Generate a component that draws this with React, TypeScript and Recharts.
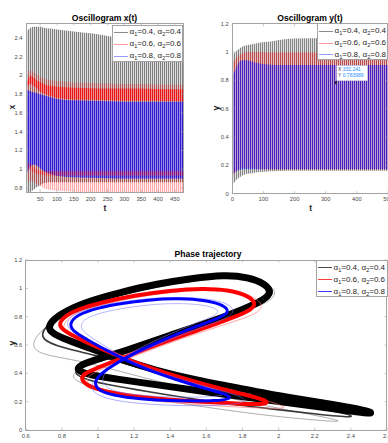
import React from "react";
import {
  Area,
  ComposedChart,
  Line,
  LineChart,
  ReferenceDot,
  XAxis,
  YAxis,
} from "recharts";

const FONT = "'Liberation Sans', Arial, Helvetica, sans-serif";
const INK = "#262626";
const TICK_INK = "#4a4a4a";
const FRAME = "#a3a3a3";

const alpha1 = ["0.4", "0.6", "0.8"];
const alpha2 = ["0.4", "0.6", "0.8"];

// x(t): envelopes of the oscillations
const tX = [8, 15, 22, 30, 40, 50, 60, 80, 100, 150, 200, 250, 300, 350, 400, 474];
const blackXHigh = [2.46, 2.49, 2.51, 2.52, 2.52, 2.52, 2.51, 2.5, 2.49, 2.47, 2.45, 2.42, 2.39, 2.36, 2.33, 2.28];
const blackXLow = [0.75, 0.75, 0.76, 0.78, 0.81, 0.83, 0.85, 0.86, 0.86, 0.86, 0.86, 0.86, 0.86, 0.86, 0.86, 0.86];
const redXHigh = [1.92, 2.03, 2.055, 2.04, 2.01, 1.99, 1.97, 1.95, 1.94, 1.925, 1.92, 1.915, 1.91, 1.91, 1.905, 1.9];
const redXLow = [0.84, 0.87, 0.88, 0.86, 0.84, 0.82, 0.8, 0.78, 0.77, 0.76, 0.755, 0.755, 0.755, 0.755, 0.755, 0.755];
const redXTopHigh = [1.89, 1.97, 2.0, 1.98, 1.95, 1.93, 1.91, 1.89, 1.88, 1.87, 1.865, 1.86, 1.86, 1.86, 1.855, 1.85];
const redXTopLow = [1.84, 1.9, 1.91, 1.89, 1.86, 1.83, 1.81, 1.78, 1.76, 1.745, 1.74, 1.735, 1.73, 1.73, 1.73, 1.725];
const blueXHigh = [1.85, 1.84, 1.83, 1.82, 1.81, 1.8, 1.79, 1.77, 1.75, 1.735, 1.73, 1.725, 1.72, 1.72, 1.72, 1.72];
const blueXLow = [0.95, 0.99, 1.03, 1.05, 1.04, 1.01, 0.98, 0.95, 0.93, 0.915, 0.91, 0.905, 0.9, 0.9, 0.9, 0.9];
const redXBandHigh = [1.04, 1.06, 1.05, 1.02, 1.0, 0.99, 0.985, 0.98, 0.98, 0.98, 0.98, 0.98, 0.98, 0.98, 0.98, 0.98];
const redXBandLow = [0.99, 1.0, 0.99, 0.97, 0.95, 0.94, 0.935, 0.93, 0.93, 0.93, 0.93, 0.93, 0.93, 0.93, 0.93, 0.93];

// y(t)
const tY = [0, 10, 20, 30, 40, 50, 75, 100, 125, 150, 200, 300, 400, 500];
const blackYHigh = [0.98, 1.0, 1.02, 1.035, 1.045, 1.05, 1.06, 1.07, 1.075, 1.085, 1.095, 1.097, 1.097, 1.097];
const blackYLow = [0.06, 0.09, 0.11, 0.125, 0.135, 0.14, 0.15, 0.155, 0.158, 0.16, 0.162, 0.162, 0.162, 0.162];
const redYHigh = [0.92, 0.95, 0.975, 0.99, 0.998, 1.0, 1.0, 0.998, 0.997, 0.997, 0.996, 0.995, 0.995, 0.995];
const redYLow = [0.12, 0.15, 0.17, 0.18, 0.184, 0.183, 0.176, 0.172, 0.17, 0.17, 0.17, 0.17, 0.17, 0.17];
const blueYHigh = [0.826, 0.88, 0.925, 0.94, 0.944, 0.94, 0.925, 0.915, 0.91, 0.908, 0.908, 0.908, 0.908, 0.908];
const blueYLow = [0.14, 0.155, 0.165, 0.17, 0.172, 0.172, 0.172, 0.172, 0.172, 0.172, 0.172, 0.172, 0.172, 0.172];

const tipX = 332.241;
const tipY = 0.783989;

// phase trajectory loops (x, y)
const blackOuter = [
  { x: 0.63, y: 0.58 }, { x: 0.66, y: 0.67 }, { x: 0.74, y: 0.76 }, { x: 0.88, y: 0.85 },
  { x: 1.06, y: 0.93 }, { x: 1.28, y: 1.0 }, { x: 1.5, y: 1.05 }, { x: 1.7, y: 1.08 },
  { x: 1.86, y: 1.07 }, { x: 1.96, y: 1.02 }, { x: 1.99, y: 0.96 }, { x: 1.94, y: 0.9 },
  { x: 1.82, y: 0.84 }, { x: 1.6, y: 0.74 }, { x: 1.38, y: 0.65 }, { x: 1.16, y: 0.55 },
  { x: 0.98, y: 0.47 }, { x: 0.88, y: 0.42 }, { x: 0.85, y: 0.37 }, { x: 0.92, y: 0.32 },
  { x: 1.08, y: 0.27 }, { x: 1.35, y: 0.21 }, { x: 1.65, y: 0.15 }, { x: 1.95, y: 0.1 },
  { x: 2.2, y: 0.07 }, { x: 2.36, y: 0.055 }, { x: 2.3, y: 0.08 }, { x: 2.05, y: 0.14 },
  { x: 1.78, y: 0.21 }, { x: 1.5, y: 0.29 }, { x: 1.25, y: 0.37 }, { x: 1.02, y: 0.45 },
  { x: 0.85, y: 0.5 }, { x: 0.7, y: 0.53 },
];
const blackMid = [
  { x: 0.68, y: 0.64 }, { x: 0.7, y: 0.72 }, { x: 0.78, y: 0.8 }, { x: 0.92, y: 0.88 },
  { x: 1.1, y: 0.95 }, { x: 1.3, y: 1.015 }, { x: 1.51, y: 1.06 }, { x: 1.7, y: 1.09 },
  { x: 1.85, y: 1.075 }, { x: 1.95, y: 1.025 }, { x: 1.975, y: 0.965 }, { x: 1.93, y: 0.91 },
  { x: 1.82, y: 0.85 }, { x: 1.61, y: 0.75 }, { x: 1.39, y: 0.66 }, { x: 1.17, y: 0.56 },
  { x: 0.99, y: 0.485 }, { x: 0.89, y: 0.44 }, { x: 0.865, y: 0.4 }, { x: 0.93, y: 0.355 },
  { x: 1.09, y: 0.31 }, { x: 1.35, y: 0.255 }, { x: 1.65, y: 0.195 }, { x: 1.95, y: 0.15 },
  { x: 2.22, y: 0.11 }, { x: 2.42, y: 0.085 }, { x: 2.4, y: 0.11 }, { x: 2.18, y: 0.16 },
  { x: 1.92, y: 0.23 }, { x: 1.65, y: 0.3 }, { x: 1.4, y: 0.375 }, { x: 1.18, y: 0.46 },
  { x: 0.98, y: 0.53 }, { x: 0.8, y: 0.58 },
];
const blackCycle = [
  { x: 0.72, y: 0.7 }, { x: 0.74, y: 0.77 }, { x: 0.82, y: 0.84 }, { x: 0.95, y: 0.91 },
  { x: 1.12, y: 0.97 }, { x: 1.32, y: 1.03 }, { x: 1.52, y: 1.07 }, { x: 1.7, y: 1.095 },
  { x: 1.83, y: 1.08 }, { x: 1.93, y: 1.03 }, { x: 1.96, y: 0.97 }, { x: 1.92, y: 0.92 },
  { x: 1.82, y: 0.86 }, { x: 1.62, y: 0.76 }, { x: 1.4, y: 0.67 }, { x: 1.18, y: 0.57 },
  { x: 1.0, y: 0.5 }, { x: 0.9, y: 0.46 }, { x: 0.88, y: 0.42 }, { x: 0.95, y: 0.39 },
  { x: 1.1, y: 0.36 }, { x: 1.35, y: 0.315 }, { x: 1.65, y: 0.26 }, { x: 1.95, y: 0.21 },
  { x: 2.25, y: 0.16 }, { x: 2.45, y: 0.125 }, { x: 2.53, y: 0.115 }, { x: 2.48, y: 0.14 },
  { x: 2.3, y: 0.18 }, { x: 2.05, y: 0.23 }, { x: 1.8, y: 0.29 }, { x: 1.55, y: 0.35 },
  { x: 1.32, y: 0.42 }, { x: 1.12, y: 0.5 }, { x: 0.95, y: 0.58 }, { x: 0.8, y: 0.65 },
];
const redOuter = [
  { x: 0.8, y: 0.7 }, { x: 0.82, y: 0.78 }, { x: 0.9, y: 0.84 }, { x: 1.04, y: 0.89 },
  { x: 1.22, y: 0.94 }, { x: 1.42, y: 0.975 }, { x: 1.6, y: 0.99 }, { x: 1.75, y: 0.985 },
  { x: 1.86, y: 0.945 }, { x: 1.92, y: 0.88 }, { x: 1.88, y: 0.82 }, { x: 1.74, y: 0.76 },
  { x: 1.52, y: 0.67 }, { x: 1.32, y: 0.58 }, { x: 1.14, y: 0.49 }, { x: 1.0, y: 0.42 },
  { x: 0.93, y: 0.37 }, { x: 0.95, y: 0.31 }, { x: 1.04, y: 0.26 }, { x: 1.2, y: 0.22 },
  { x: 1.42, y: 0.19 }, { x: 1.66, y: 0.17 }, { x: 1.88, y: 0.155 }, { x: 2.04, y: 0.15 },
  { x: 2.03, y: 0.17 }, { x: 1.9, y: 0.22 }, { x: 1.7, y: 0.28 }, { x: 1.5, y: 0.35 },
  { x: 1.3, y: 0.43 }, { x: 1.12, y: 0.52 }, { x: 0.97, y: 0.6 }, { x: 0.86, y: 0.66 },
];
const redCycle = [
  { x: 0.78, y: 0.73 }, { x: 0.8, y: 0.79 }, { x: 0.88, y: 0.85 }, { x: 1.02, y: 0.9 },
  { x: 1.2, y: 0.95 }, { x: 1.4, y: 0.985 }, { x: 1.58, y: 1.0 }, { x: 1.72, y: 0.99 },
  { x: 1.83, y: 0.95 }, { x: 1.88, y: 0.89 }, { x: 1.84, y: 0.84 }, { x: 1.7, y: 0.77 },
  { x: 1.5, y: 0.68 }, { x: 1.3, y: 0.59 }, { x: 1.12, y: 0.5 }, { x: 0.98, y: 0.43 },
  { x: 0.91, y: 0.39 }, { x: 0.91, y: 0.34 }, { x: 0.98, y: 0.29 }, { x: 1.12, y: 0.25 },
  { x: 1.32, y: 0.22 }, { x: 1.55, y: 0.2 }, { x: 1.78, y: 0.185 }, { x: 1.92, y: 0.18 },
  { x: 1.95, y: 0.2 }, { x: 1.85, y: 0.24 }, { x: 1.68, y: 0.29 }, { x: 1.48, y: 0.36 },
  { x: 1.28, y: 0.44 }, { x: 1.1, y: 0.53 }, { x: 0.95, y: 0.61 }, { x: 0.84, y: 0.68 },
];
const blueOuter = [
  { x: 0.82, y: 0.74 }, { x: 0.85, y: 0.81 }, { x: 0.95, y: 0.86 }, { x: 1.1, y: 0.9 },
  { x: 1.28, y: 0.93 }, { x: 1.46, y: 0.94 }, { x: 1.62, y: 0.925 }, { x: 1.73, y: 0.89 },
  { x: 1.76, y: 0.83 }, { x: 1.7, y: 0.78 }, { x: 1.54, y: 0.71 }, { x: 1.36, y: 0.62 },
  { x: 1.18, y: 0.52 }, { x: 1.05, y: 0.43 }, { x: 0.97, y: 0.35 }, { x: 0.96, y: 0.28 },
  { x: 1.02, y: 0.23 }, { x: 1.15, y: 0.195 }, { x: 1.35, y: 0.175 }, { x: 1.55, y: 0.17 },
  { x: 1.72, y: 0.175 }, { x: 1.83, y: 0.2 }, { x: 1.79, y: 0.24 }, { x: 1.64, y: 0.29 },
  { x: 1.45, y: 0.36 }, { x: 1.26, y: 0.44 }, { x: 1.09, y: 0.54 }, { x: 0.95, y: 0.63 },
  { x: 0.86, y: 0.69 },
];
const blueInner = [
  { x: 0.9, y: 0.74 }, { x: 0.93, y: 0.79 }, { x: 1.02, y: 0.83 }, { x: 1.16, y: 0.865 },
  { x: 1.32, y: 0.89 }, { x: 1.48, y: 0.895 }, { x: 1.6, y: 0.88 }, { x: 1.67, y: 0.85 },
  { x: 1.66, y: 0.81 }, { x: 1.55, y: 0.76 }, { x: 1.4, y: 0.68 }, { x: 1.23, y: 0.58 },
  { x: 1.1, y: 0.48 }, { x: 1.03, y: 0.4 }, { x: 1.02, y: 0.33 }, { x: 1.07, y: 0.28 },
  { x: 1.18, y: 0.25 }, { x: 1.34, y: 0.235 }, { x: 1.5, y: 0.23 }, { x: 1.63, y: 0.235 },
  { x: 1.7, y: 0.245 }, { x: 1.68, y: 0.27 }, { x: 1.56, y: 0.31 }, { x: 1.4, y: 0.37 },
  { x: 1.23, y: 0.45 }, { x: 1.09, y: 0.55 }, { x: 0.98, y: 0.64 }, { x: 0.92, y: 0.69 },
];
const blueCycle = [
  { x: 0.84, y: 0.74 }, { x: 0.87, y: 0.8 }, { x: 0.96, y: 0.85 }, { x: 1.1, y: 0.89 },
  { x: 1.28, y: 0.92 }, { x: 1.45, y: 0.93 }, { x: 1.6, y: 0.915 }, { x: 1.7, y: 0.88 },
  { x: 1.73, y: 0.83 }, { x: 1.67, y: 0.79 }, { x: 1.52, y: 0.72 }, { x: 1.35, y: 0.63 },
  { x: 1.18, y: 0.53 }, { x: 1.06, y: 0.44 }, { x: 0.99, y: 0.37 }, { x: 0.98, y: 0.31 },
  { x: 1.03, y: 0.26 }, { x: 1.15, y: 0.23 }, { x: 1.32, y: 0.21 }, { x: 1.5, y: 0.205 },
  { x: 1.65, y: 0.205 }, { x: 1.74, y: 0.22 }, { x: 1.72, y: 0.25 }, { x: 1.6, y: 0.29 },
  { x: 1.42, y: 0.36 }, { x: 1.24, y: 0.44 }, { x: 1.08, y: 0.54 }, { x: 0.95, y: 0.63 },
  { x: 0.87, y: 0.69 },
];

const xTicksA = [50, 100, 150, 200, 250, 300, 350, 400, 450];
const yTicksA = [0.8, 1, 1.2, 1.4, 1.6, 1.8, 2, 2.2, 2.4];
const xTicksB = [0, 100, 200, 300, 400, 500];
const yTicksB = [0, 0.2, 0.4, 0.6, 0.8, 1, 1.2];
const xTicksC = [0.6, 0.8, 1, 1.2, 1.4, 1.6, 1.8, 2, 2.2, 2.4, 2.6];
const yTicksC = [0, 0.2, 0.4, 0.6, 0.8, 1, 1.2];

const xRows = tX.map((t, i) => ({
  t,
  black: [blackXLow[i], blackXHigh[i]],
  red: [redXLow[i], redXHigh[i]],
  redTop: [redXTopLow[i], redXTopHigh[i]],
  blue: [blueXLow[i], blueXHigh[i]],
  redBand: [redXBandLow[i], redXBandHigh[i]],
}));

const yRows = tY.map((t, i) => ({
  t,
  black: [blackYLow[i], blackYHigh[i]],
  red: [redYLow[i], redYHigh[i]],
  blue: [blueYLow[i], blueYHigh[i]],
}));

const fmt = (v: number) => String(Math.round(v * 10) / 10);

function bottomTick(top: number, bottom: number, dy: number) {
  return (p: any) => (
    <g>
      <line x1={p.x} x2={p.x} y1={bottom} y2={bottom - 2.5} stroke={FRAME} strokeWidth={0.6} />
      <line x1={p.x} x2={p.x} y1={top} y2={top + 2.5} stroke={FRAME} strokeWidth={0.6} />
      <text x={p.x} y={bottom + dy} textAnchor="middle" fontSize={5.8} fill={TICK_INK} fontFamily={FONT}>
        {fmt(p.payload.value)}
      </text>
    </g>
  );
}

function leftTick(left: number, right: number) {
  return (p: any) => (
    <g>
      <line x1={left} x2={left + 2.5} y1={p.y} y2={p.y} stroke={FRAME} strokeWidth={0.6} />
      <line x1={right} x2={right - 2.5} y1={p.y} y2={p.y} stroke={FRAME} strokeWidth={0.6} />
      <text x={left - 3.5} y={p.y + 2} textAnchor="end" fontSize={5.8} fill={TICK_INK} fontFamily={FONT}>
        {fmt(p.payload.value)}
      </text>
    </g>
  );
}

function Stripes({ id, stripe, gap }: { id: string; stripe: string; gap: string }) {
  return (
    <pattern id={id} patternUnits="userSpaceOnUse" width={2} height={4}>
      <rect x={0} y={0} width={1} height={4} fill={stripe} />
      <rect x={1} y={0} width={1} height={4} fill={gap} />
    </pattern>
  );
}

function Frame({ left, top, width, height }: any) {
  return (
    <div
      style={{
        position: "absolute",
        left: left - 0.5,
        top: top - 0.5,
        width: width + 1,
        height: height + 1,
        border: `1px solid ${FRAME}`,
        boxSizing: "border-box",
        pointerEvents: "none",
      }}
    />
  );
}

function Title({ cx, cy, text }: any) {
  return (
    <div
      style={{
        position: "absolute",
        left: cx - 60,
        top: cy - 5,
        width: 120,
        lineHeight: "10px",
        textAlign: "center",
        fontFamily: FONT,
        fontWeight: "bold",
        fontSize: 8.6,
        color: "#000",
      }}
    >
      {text}
    </div>
  );
}

function AxisLabel({ cx, cy, text, rotate }: any) {
  return (
    <div
      style={{
        position: "absolute",
        left: cx - 10,
        top: cy - 5,
        width: 20,
        lineHeight: "10px",
        textAlign: "center",
        fontFamily: FONT,
        fontWeight: "bold",
        fontSize: 8.6,
        color: INK,
        transform: rotate ? "rotate(-90deg)" : undefined,
      }}
    >
      {text}
    </div>
  );
}

const subStyle: React.CSSProperties = { fontSize: 5.6, verticalAlign: "-1.6px", lineHeight: 0 };

function LegendBox({ left, top, width, rows, colors, lineWidth }: any) {
  return (
    <div
      style={{
        position: "absolute",
        left,
        top,
        width,
        height: 37,
        background: "#fff",
        border: `1px solid ${FRAME}`,
        boxSizing: "border-box",
        fontFamily: FONT,
        fontSize: 8,
        color: INK,
      }}
    >
      {alpha1.map((a1, i) => (
        <div key={a1} style={{ position: "absolute", left: 0, top: rows[i] - 5, height: 10, width: "100%" }}>
          <div
            style={{
              position: "absolute",
              left: 1,
              top: 5 - lineWidth / 2,
              width: 14,
              height: lineWidth,
              background: colors[i],
            }}
          />
          <div style={{ position: "absolute", left: 16.5, top: 0, lineHeight: "10px", whiteSpace: "nowrap" }}>
            α<sub style={subStyle}>1</sub>={a1}, α<sub style={subStyle}>2</sub>={alpha2[i]}
          </div>
        </div>
      ))}
    </div>
  );
}

const tipShape = (p: any) => {
  const { cx, cy } = p;
  return (
    <g>
      <rect x={cx + 1} y={cy - 17} width={30.5} height={15} fill="#fff" stroke="#d6d6d6" strokeWidth={0.5} />
      <text x={cx + 2.3} y={cy - 11.8} fontSize={5} fontFamily={FONT}>
        <tspan fill="#333">X </tspan>
        <tspan fill="#1a8fff">{String(tipX)}</tspan>
      </text>
      <text x={cx + 2.3} y={cy - 5.4} fontSize={5} fontFamily={FONT}>
        <tspan fill="#333">Y </tspan>
        <tspan fill="#1a8fff">{tipY.toFixed(6)}</tspan>
      </text>
      <circle cx={cx} cy={cy} r={1.3} fill="#222" />
    </g>
  );
};

const lightColors = ["#8c8c8c", "#ff9a9a", "#9a9aff"];
const phaseColors = ["#4d4d4d", "#ff3c3c", "#3c3cff"];

function OscX() {
  return (
    <div style={{ position: "absolute", left: 0, top: 0, width: 194, height: 215 }}>
      <ComposedChart width={194} height={215} data={xRows} margin={{ top: 23, right: 11, bottom: 0, left: 0 }}>
        <defs>
          <Stripes id="axBlack" stripe="rgba(0,0,0,0.5)" gap="rgba(0,0,0,0.13)" />
          <Stripes id="axRed" stripe="rgba(255,0,0,0.33)" gap="rgba(255,0,0,0.07)" />
          <Stripes id="axRedTop" stripe="rgba(255,0,0,0.75)" gap="rgba(255,50,50,0.4)" />
          <Stripes id="axBlue" stripe="rgba(0,0,255,0.72)" gap="rgba(70,70,255,0.48)" />
          <Stripes id="axRedBand" stripe="rgba(255,0,0,0.42)" gap="rgba(255,60,60,0.18)" />
        </defs>
        <XAxis
          dataKey="t"
          type="number"
          domain={[8, 474]}
          ticks={xTicksA}
          interval={0}
          height={23}
          tickSize={0}
          tickMargin={0}
          axisLine={false}
          tickLine={false}
          tick={bottomTick(23, 192, 9.4)}
          allowDataOverflow
        />
        <YAxis
          type="number"
          domain={[0.757, 2.56]}
          ticks={yTicksA}
          interval={0}
          width={26}
          tickSize={0}
          tickMargin={0}
          axisLine={false}
          tickLine={false}
          tick={leftTick(26, 183)}
          allowDataOverflow
        />
        <Area dataKey="black" type="monotone" stroke="none" fill="url(#axBlack)" fillOpacity={1} isAnimationActive={false} activeDot={false} />
        <Area dataKey="red" type="monotone" stroke="none" fill="url(#axRed)" fillOpacity={1} isAnimationActive={false} activeDot={false} />
        <Area dataKey="redTop" type="monotone" stroke="none" fill="url(#axRedTop)" fillOpacity={1} isAnimationActive={false} activeDot={false} />
        <Area dataKey="blue" type="monotone" stroke="none" fill="url(#axBlue)" fillOpacity={1} isAnimationActive={false} activeDot={false} />
        <Area dataKey="redBand" type="monotone" stroke="none" fill="url(#axRedBand)" fillOpacity={1} isAnimationActive={false} activeDot={false} />
      </ComposedChart>
      <Frame left={26} top={23} width={157} height={169} />
    </div>
  );
}

function OscY() {
  return (
    <div style={{ position: "absolute", left: 194, top: 0, width: 194, height: 215 }}>
      <ComposedChart width={194} height={215} data={yRows} margin={{ top: 23.7, right: 0, bottom: 0, left: 0 }}>
        <defs>
          <Stripes id="ayBlack" stripe="rgba(0,0,0,0.48)" gap="rgba(0,0,0,0.12)" />
          <Stripes id="ayRed" stripe="rgba(255,0,0,0.45)" gap="rgba(255,0,0,0.12)" />
          <Stripes id="ayBlue" stripe="rgba(0,0,255,0.62)" gap="rgba(60,60,255,0.26)" />
        </defs>
        <XAxis
          dataKey="t"
          type="number"
          domain={[0, 500]}
          ticks={xTicksB}
          interval={0}
          height={21.3}
          tickSize={0}
          tickMargin={0}
          axisLine={false}
          tickLine={false}
          tick={bottomTick(23.7, 193.7, 7.6)}
          allowDataOverflow
        />
        <YAxis
          type="number"
          domain={[0, 1.2]}
          ticks={yTicksB}
          interval={0}
          width={38.3}
          tickSize={0}
          tickMargin={0}
          axisLine={false}
          tickLine={false}
          tick={leftTick(38.3, 194)}
          allowDataOverflow
        />
        <Area dataKey="black" type="monotone" stroke="none" fill="url(#ayBlack)" fillOpacity={1} isAnimationActive={false} activeDot={false} />
        <Area dataKey="red" type="monotone" stroke="none" fill="url(#ayRed)" fillOpacity={1} isAnimationActive={false} activeDot={false} />
        <Area dataKey="blue" type="monotone" stroke="none" fill="url(#ayBlue)" fillOpacity={1} isAnimationActive={false} activeDot={false} />
        <ReferenceDot x={tipX} y={tipY} r={1.3} shape={tipShape} ifOverflow="visible" />
      </ComposedChart>
      <Frame left={38.3} top={23.7} width={156} height={170} />
    </div>
  );
}

function Phase() {
  const loop = (data: any[], color: string, w: number, key: string, opacity = 1) => (
    <Line
      key={key}
      data={data}
      dataKey="y"
      type="basisClosed"
      stroke={color}
      strokeWidth={w}
      strokeOpacity={opacity}
      dot={false}
      activeDot={false}
      isAnimationActive={false}
    />
  );
  return (
    <div style={{ position: "absolute", left: 0, top: 215, width: 388, height: 228 }}>
      <LineChart width={388} height={228} margin={{ top: 45, right: 1, bottom: 0, left: 0 }}>
        <XAxis
          dataKey="x"
          type="number"
          domain={[0.6, 2.6]}
          ticks={xTicksC}
          interval={0}
          height={13}
          tickSize={0}
          tickMargin={0}
          axisLine={false}
          tickLine={false}
          tick={bottomTick(45, 215, 8.3)}
          allowDataOverflow
        />
        <YAxis
          type="number"
          domain={[0, 1.2]}
          ticks={yTicksC}
          interval={0}
          width={25.7}
          tickSize={0}
          tickMargin={0}
          axisLine={false}
          tickLine={false}
          tick={leftTick(25.7, 387)}
          allowDataOverflow
        />
        {loop(blackOuter, "#555", 0.6, "bo", 0.8)}
        {loop(blackMid, "#222", 1.6, "bm", 0.9)}
        {loop(blackCycle, "#000", 7, "bc")}
        {loop(redOuter, "#ff7070", 0.8, "ro", 0.8)}
        {loop(redCycle, "#ff0000", 4, "rc")}
        {loop(blueOuter, "#7070ff", 0.7, "blo", 0.8)}
        {loop(blueInner, "#8080ff", 0.7, "bli", 0.8)}
        {loop(blueCycle, "#0000ff", 3, "blc")}
      </LineChart>
      <Frame left={25.7} top={45} width={361.3} height={170} />
    </div>
  );
}

export default function App() {
  return (
    <div
      style={{
        position: "absolute",
        left: 0,
        top: 0,
        width: 388,
        height: 443,
        overflow: "hidden",
        background: "#fff",
      }}
    >
      <OscX />
      <OscY />
      <Phase />
      <Title cx={104.5} cy={17.5} text="Oscillogram x(t)" />
      <Title cx={310} cy={17.5} text="Oscillogram y(t)" />
      <Title cx={208} cy={254.3} text="Phase trajectory" />
      <AxisLabel cx={105} cy={208.3} text="t" />
      <AxisLabel cx={310.7} cy={208.3} text="t" />
      <AxisLabel cx={11.7} cy={106.7} text="x" rotate />
      <AxisLabel cx={215.7} cy={108.3} text="y" rotate />
      <AxisLabel cx={11.7} cy={343.3} text="y" rotate />
      <LegendBox left={112} top={25} width={71} rows={[6, 18, 30]} colors={lightColors} lineWidth={1} />
      <LegendBox left={317} top={23} width={71} rows={[7, 19, 30.5]} colors={lightColors} lineWidth={1} />
      <LegendBox left={316} top={260} width={72} rows={[6.7, 18.7, 30.7]} colors={phaseColors} lineWidth={1} />
    </div>
  );
}
